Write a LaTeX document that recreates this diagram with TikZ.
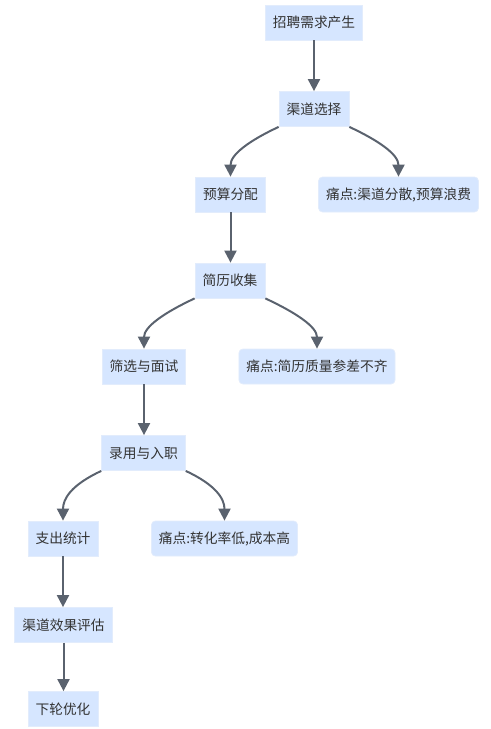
\documentclass[tikz,border=0pt]{standalone}
\usepackage{fontspec}
\newfontfamily\cjk{Noto Sans CJK SC}
\usetikzlibrary{arrows.meta}
\definecolor{boxfill}{RGB}{214,230,255}
\definecolor{boxline}{RGB}{226,236,252}
\definecolor{edgecol}{RGB}{90,98,110}
\definecolor{txt}{RGB}{51,51,51}
\tikzset{
  stepbox/.style={draw=boxline, line width=0.6pt, fill=boxfill, minimum height=26.25pt, inner xsep=5.6pt, inner ysep=0pt, text=txt, font=\cjk\fontsize{10.3}{12}\selectfont},
  painbox/.style={stepbox, rounded corners=3pt},
  flow/.style={draw=edgecol, line width=1.5pt, -{Triangle[length=9pt,width=9pt]}}
}
\begin{document}
\begin{tikzpicture}[x=0.75pt,y=-0.75pt]
\useasboundingbox (0,0) rectangle (490,729);
\node[stepbox] (a) at (314,22.5) {招聘需求产生};
\node[stepbox] (b) at (314,109) {渠道选择};
\node[stepbox] (c) at (230.5,194.5) {预算分配};
\node[painbox] (d) at (398.5,194.5) {痛点:渠道分散,预算浪费};
\node[stepbox] (e) at (230,280.5) {简历收集};
\node[stepbox] (f) at (144,366.5) {筛选与面试};
\node[painbox] (g) at (317,366.5) {痛点:简历质量参差不齐};
\node[stepbox] (h) at (143.5,453) {录用与入职};
\node[stepbox] (i) at (63,538.5) {支出统计};
\node[painbox] (j) at (224.5,538.5) {痛点:转化率低,成本高};
\node[stepbox] (k) at (63.5,625) {渠道效果评估};
\node[stepbox] (l) at (63,709) {下轮优化};

\draw[flow] (a.south) -- (a.south |- b.north);
\draw[flow] (c.south) -- (c.south |- e.north);
\draw[flow] (f.south) -- (f.south |- h.north);
\draw[flow] (i.south) -- (i.south |- k.north);
\draw[flow] (k.south) -- (k.south |- l.north);

\draw[flow] (b.south west) .. controls +(-30,14) and +(0,-22) .. (c.north);
\draw[flow] (b.south east) .. controls +(30,14) and +(0,-22) .. (d.north);
\draw[flow] (e.south west) .. controls +(-30,14) and +(0,-22) .. (f.north);
\draw[flow] (e.south east) .. controls +(30,14) and +(0,-22) .. (g.north);
\draw[flow] (h.south west) .. controls +(-30,14) and +(0,-22) .. (i.north);
\draw[flow] (h.south east) .. controls +(30,14) and +(0,-22) .. (j.north);
\end{tikzpicture}
\end{document}
